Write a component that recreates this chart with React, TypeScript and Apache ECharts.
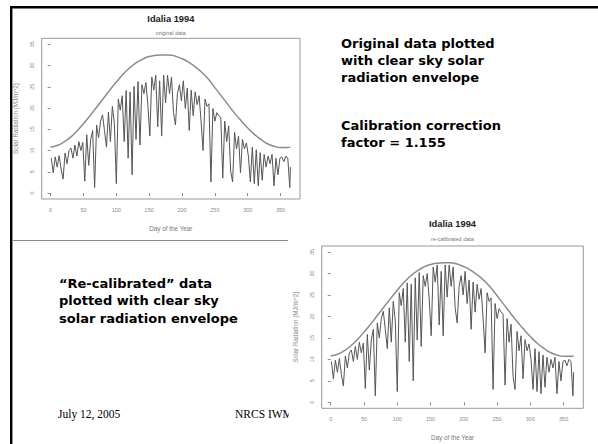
import { useEffect, useRef } from "react";
import * as echarts from "echarts";

// Day of year sampled from the plotted daily series
const DAYS = [
  1, 4, 7, 10, 13, 16, 19, 22, 25, 28,
  31, 34, 37, 40, 43, 46, 49, 52, 55, 58,
  61, 64, 67, 70, 73, 76, 79, 82, 85, 88,
  91, 94, 97, 100, 103, 106, 109, 112, 115, 118,
  121, 124, 127, 130, 133, 136, 139, 142, 145, 148,
  151, 154, 157, 160, 163, 166, 169, 172, 175, 178,
  181, 184, 187, 190, 193, 196, 199, 202, 205, 208,
  211, 214, 217, 220, 223, 226, 229, 232, 235, 238,
  241, 244, 247, 250, 253, 256, 259, 262, 265, 268,
  271, 274, 277, 280, 283, 286, 289, 292, 295, 298,
  301, 304, 307, 310, 313, 316, 319, 322, 325, 328,
  331, 334, 337, 340, 343, 346, 349, 352, 355, 358,
  361, 364, 365,
];

// Original data (MJ/m^2), upper plot
const ORIGINAL = [
  8.2, 4.8, 8.5, 6.1, 8.8, 5.6, 3.3, 9.4, 6.9, 10.0,
  10.6, 8.2, 11.3, 8.7, 12.1, 10.0, 11.9, 2.8, 13.7, 6.5,
  12.6, 14.7, 1.3, 16.0, 13.0, 16.9, 18.4, 14.7, 10.8, 19.0,
  12.1, 20.4, 16.5, 2.2, 22.1, 19.5, 22.9, 12.1, 24.1, 8.2,
  23.8, 4.3, 25.1, 12.6, 26.2, 11.3, 25.5, 23.4, 26.0, 20.8,
  13.4, 27.3, 24.2, 27.7, 15.6, 26.4, 13.4, 27.7, 21.2, 27.7,
  23.4, 27.3, 19.0, 16.0, 23.4, 25.5, 21.7, 26.4, 19.9, 24.7,
  14.7, 24.2, 18.2, 23.8, 20.8, 22.9, 16.9, 10.0, 22.1, 20.4,
  21.0, 2.6, 19.9, 16.9, 18.9, 18.2, 17.8, 3.5, 16.9, 12.1,
  15.8, 5.2, 2.6, 14.3, 10.4, 13.4, 4.8, 12.6, 10.4, 11.8,
  8.7, 2.6, 10.8, 2.2, 10.2, 1.7, 9.5, 3.0, 9.1, 6.1,
  8.7, 6.9, 9.1, 1.7, 8.2, 4.3, 8.2, 8.5, 7.4, 8.7,
  8.2, 1.3, 6.1,
];

// Re-calibrated data (MJ/m^2), lower plot
const RECALIBRATED = [
  9.5, 5.5, 9.8, 7.0, 10.2, 6.5, 3.8, 10.8, 8.0, 11.5,
  12.2, 9.5, 13.0, 10.0, 14.0, 11.5, 13.8, 3.2, 15.8, 7.5,
  14.5, 17.0, 1.5, 18.5, 15.0, 19.5, 21.2, 17.0, 12.5, 22.0,
  14.0, 23.5, 19.0, 2.5, 25.5, 22.5, 26.5, 14.0, 27.8, 9.5,
  27.5, 5.0, 29.0, 14.5, 30.2, 13.0, 29.5, 27.0, 30.0, 24.0,
  15.5, 31.5, 28.0, 32.0, 18.0, 30.5, 15.5, 32.0, 24.5, 32.0,
  27.0, 31.5, 22.0, 18.5, 27.0, 29.5, 25.0, 30.5, 23.0, 28.5,
  17.0, 28.0, 21.0, 27.5, 24.0, 26.5, 19.5, 11.5, 25.5, 23.5,
  24.3, 3.0, 23.0, 19.5, 21.8, 21.0, 20.5, 4.0, 19.5, 14.0,
  18.2, 6.0, 3.0, 16.5, 12.0, 15.5, 5.5, 14.6, 12.0, 13.6,
  10.0, 3.0, 12.5, 2.5, 11.8, 2.0, 11.0, 3.5, 10.5, 7.0,
  10.0, 8.0, 10.5, 2.0, 9.5, 5.0, 9.5, 9.8, 8.5, 10.0,
  9.5, 1.5, 7.0,
];

// Clear sky solar radiation envelope
const ENVELOPE_DAYS = [
  0, 10, 20, 30, 40, 50, 60, 70, 80, 90, 100, 110, 120, 130, 140, 150, 160, 170, 180,
  190, 200, 210, 220, 230, 240, 250, 260, 270, 280, 290, 300, 310, 320, 330, 340, 350, 360, 365,
];
const ENVELOPE = [
  10.8, 11.2, 12.0, 13.1, 14.6, 16.3, 18.2, 20.2, 22.2, 24.2, 26.1, 27.9, 29.4, 30.6, 31.5, 32.1, 32.4, 32.5, 32.5,
  32.2, 31.6, 30.8, 29.7, 28.4, 26.8, 24.8, 22.8, 20.8, 18.8, 17.0, 15.3, 13.8, 12.6, 11.6, 11.0, 10.7, 10.7, 10.8,
];

const X_TICKS = [0, 50, 100, 150, 200, 250, 300, 350];
const Y_TICKS = [0, 5, 10, 15, 20, 25, 30, 35];

const PLOT_TITLE = "Idalia 1994";
const SUBTITLES = ["original data", "re-calibrated data"];
const X_NAME = "Day of the Year";
const Y_NAME = "Solar Radiation (MJ/m^2)";

const TEXT_TOP = ["Original data plotted", "with clear sky solar", "radiation envelope"];
const TEXT_FACTOR = ["Calibration correction", "factor = 1.155"];
const TEXT_BOTTOM = ["\u201cRe-calibrated\u201d data", "plotted with clear sky", "solar radiation envelope"];
const FOOTER_LEFT = "July 12, 2005";
const FOOTER_RIGHT = "NRCS IWM";

const RFONT = "'Liberation Sans', Arial, sans-serif";
const VFONT = "'DejaVu Sans', Verdana, sans-serif";

const GRIDS = [
  { left: 41.7, top: 38.3, width: 258.3, height: 160.7 },
  { left: 321.7, top: 246, width: 261.6, height: 162.3 },
];

function makeOption() {
  const xAxes = GRIDS.map((_, i) => ({
    type: "value",
    gridIndex: i,
    min: -13.56,
    max: 379.56,
    axisLine: { show: false },
    axisTick: { show: true, customValues: X_TICKS, length: 3, lineStyle: { color: "#8a8a8a", width: 1 } },
    axisLabel: { customValues: X_TICKS, fontSize: 5.5, color: "#8a8a8a", margin: 8, fontFamily: RFONT },
    splitLine: { show: false },
    name: X_NAME,
    nameLocation: "middle",
    nameGap: 26,
    nameTextStyle: { fontSize: 6.3, color: "#777", fontFamily: RFONT },
  }));
  const yAxes = GRIDS.map((_, i) => ({
    type: "value",
    gridIndex: i,
    min: -1.4,
    max: 36.4,
    axisLine: { show: false },
    axisTick: { show: true, customValues: Y_TICKS, length: 3, lineStyle: { color: "#8a8a8a", width: 1 } },
    axisLabel: { customValues: Y_TICKS, fontSize: 5.5, color: "#8a8a8a", margin: 7, rotate: 90, fontFamily: RFONT },
    splitLine: { show: false },
    name: Y_NAME,
    nameLocation: "middle",
    nameGap: 23,
    nameRotate: 90,
    nameTextStyle: { fontSize: 6.3, color: "#8a8a8a", fontFamily: RFONT },
  }));

  const dataSets = [ORIGINAL, RECALIBRATED];
  const series: any[] = [];
  dataSets.forEach((vals, i) => {
    series.push({
      type: "line",
      xAxisIndex: i,
      yAxisIndex: i,
      data: DAYS.map((d, k) => [d, vals[k]]),
      showSymbol: false,
      lineStyle: { color: "#555", width: 1 },
      silent: true,
    });
    series.push({
      type: "line",
      xAxisIndex: i,
      yAxisIndex: i,
      data: ENVELOPE_DAYS.map((d, k) => [d, ENVELOPE[k]]),
      showSymbol: false,
      smooth: true,
      lineStyle: { color: "#8c8c8c", width: 1.5 },
      silent: true,
    });
  });

  const centerX = (g: any) => g.left + g.width / 2;
  const graphic: any[] = [
    // slide border
    { type: "rect", shape: { x: 10, y: 6, width: 588, height: 2.4 }, style: { fill: "#000" }, z: 10 },
    { type: "rect", shape: { x: 10, y: 6, width: 2.4, height: 438 }, style: { fill: "#000" }, z: 10 },
    // separator under first plot
    { type: "line", shape: { x1: 13, y1: 240.5, x2: 288, y2: 240.5 }, style: { stroke: "#8a8a8a", lineWidth: 1 }, z: 1 },
    // plot titles
    ...GRIDS.map((g, i) => ({
      type: "text",
      x: centerX(g),
      y: i === 0 ? 19 : 224,
      style: { text: PLOT_TITLE, font: `bold 9.3px ${RFONT}`, fill: "#222", textAlign: "center", textVerticalAlign: "middle" },
    })),
    ...GRIDS.map((g, i) => ({
      type: "text",
      x: centerX(g),
      y: i === 0 ? 33 : 238.5,
      style: { text: SUBTITLES[i], font: `5.5px ${RFONT}`, fill: "#777", textAlign: "center", textVerticalAlign: "middle" },
    })),
    ...TEXT_TOP.map((t, k) => ({
      type: "text",
      x: 341,
      y: 43 + k * 17.3,
      style: { text: t, font: `bold 13px ${VFONT}`, fill: "#000", textVerticalAlign: "middle" },
    })),
    ...TEXT_FACTOR.map((t, k) => ({
      type: "text",
      x: 341,
      y: 125 + k * 17.3,
      style: { text: t, font: `bold 13px ${VFONT}`, fill: "#000", textVerticalAlign: "middle" },
    })),
    ...TEXT_BOTTOM.map((t, k) => ({
      type: "text",
      x: 59,
      y: 283 + k * 17.5,
      style: { text: t, font: `bold 13px ${VFONT}`, fill: "#000", textVerticalAlign: "middle" },
    })),
    {
      type: "text",
      x: 58,
      y: 414,
      style: { text: FOOTER_LEFT, font: `11.5px 'Liberation Serif', serif`, fill: "#000", textVerticalAlign: "middle" },
    },
    {
      type: "text",
      x: 235,
      y: 414,
      z: 0,
      style: { text: FOOTER_RIGHT, font: `11.5px 'Liberation Serif', serif`, fill: "#000", textVerticalAlign: "middle" },
    },
    // lower plot picture edge hides the end of the footer
    { type: "rect", z: 5, shape: { x: 289, y: 404, width: 16, height: 20 }, style: { fill: "#fff" } },
  ];

  return {
    animation: false,
    backgroundColor: "#fff",
    grid: GRIDS.map((g) => ({ ...g, show: true, borderColor: "#999", borderWidth: 1, backgroundColor: "transparent" })),
    xAxis: xAxes,
    yAxis: yAxes,
    series,
    graphic,
  };
}

export default function App() {
  const ref = useRef<HTMLDivElement>(null);
  useEffect(() => {
    if (!ref.current) return;
    const chart = echarts.init(ref.current, undefined, { renderer: "svg" });
    chart.setOption(makeOption() as any);
    return () => chart.dispose();
  }, []);
  return (
    <div
      ref={ref}
      style={{ position: "absolute", left: 0, top: 0, width: 598, height: 444, background: "#fff" }}
    />
  );
}
